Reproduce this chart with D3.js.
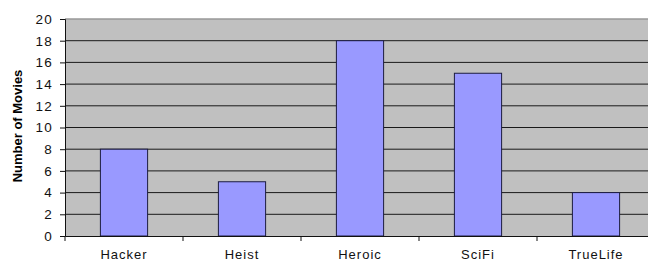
<!DOCTYPE html>
<meta charset="utf-8">
<style>
  body { margin: 0; background: #fff; }
  .tick text { font-family: "Liberation Sans", Arial, sans-serif; font-size: 13px; letter-spacing: 1px; fill: #111; }
  .y-axis .tick text { font-size: 13.5px; letter-spacing: 1.2px; }
  .grid line { stroke: #1a1a1a; stroke-width: 1px; }
  .bar { fill: #9999ff; stroke: #1c1c40; stroke-width: 1px; }
</style>
<body>
<script src="https://d3js.org/d3.v7.min.js"></script>
<script>
  // chart data
  var categories = ["Hacker", "Heist", "Heroic", "SciFi", "TrueLife"];
  var movieCounts = [8, 5, 18, 15, 4];
  var yTicks = [0, 2, 4, 6, 8, 10, 12, 14, 16, 18, 20];

  var margin = {top: 19, right: -7, bottom: 25, left: 65},
    width = 648 - margin.left - margin.right,
    height = 261 - margin.top - margin.bottom;

  var x = d3.scaleBand().domain(categories).range([0, width]).paddingInner(0.6).paddingOuter(0.3);
  var xTicks = d3.scaleBand().domain(categories).range([0, width]);
  var y = d3.scaleLinear().domain([0, 20]).range([height, 0]);

  var svg = d3.select("body").append("svg")
    .attr("width", 648)
    .attr("height", 261)
    .append("g")
    .attr("transform", "translate(" + margin.left + "," + margin.top + ")");

  // plot background
  svg.append("rect")
    .attr("width", width)
    .attr("height", height)
    .style("fill", "#c0c0c0");

  // top border
  svg.append("line")
    .attr("x1", 0).attr("x2", width)
    .attr("y1", y(20)).attr("y2", y(20))
    .style("stroke", "#999").style("stroke-width", 1.5);

  // gridlines
  svg.append("g")
    .attr("class", "grid")
    .selectAll("line")
    .data(yTicks.filter(function(d) { return d > 0 && d < 20; }))
    .enter().append("line")
    .attr("x1", 0).attr("x2", width)
    .attr("y1", function(d) { return y(d); })
    .attr("y2", function(d) { return y(d); });

  // bars
  svg.selectAll(".bar")
    .data(movieCounts)
    .enter().append("rect")
    .attr("class", "bar")
    .attr("x", function(d, i) { return x(categories[i]); })
    .attr("width", x.bandwidth())
    .attr("y", function(d) { return y(d); })
    .attr("height", function(d) { return height - y(d); });

  // y axis
  var yAxis = svg.append("g")
    .attr("class", "y-axis")
    .call(d3.axisLeft(y).tickValues(yTicks).tickSize(5).tickPadding(7));
  yAxis.select(".domain").style("stroke", "#111");
  yAxis.selectAll(".tick line").style("stroke", "#111");

  // x axis, ticks at category boundaries
  var xAxis = svg.append("g")
    .attr("transform", "translate(0," + height + ")")
    .call(d3.axisBottom(x).tickSize(0).tickPadding(17));
  xAxis.select(".domain").style("stroke", "#111");
  xAxis.selectAll(".tick text").attr("dy", "0.45em");
  svg.append("g")
    .selectAll("line")
    .data(categories)
    .enter().append("line")
    .attr("x1", function(d) { return xTicks(d); })
    .attr("x2", function(d) { return xTicks(d); })
    .attr("y1", height).attr("y2", height + 5)
    .style("stroke", "#111");

  // y axis title
  svg.append("text")
    .attr("transform", "rotate(-90)")
    .attr("x", -(126 - margin.top))
    .attr("y", -43)
    .style("text-anchor", "middle")
    .style("font-family", "Liberation Sans, Arial, sans-serif")
    .style("font-size", "13px")
    .style("font-weight", "bold")
    .text("Number of Movies");
</script>
</body>
